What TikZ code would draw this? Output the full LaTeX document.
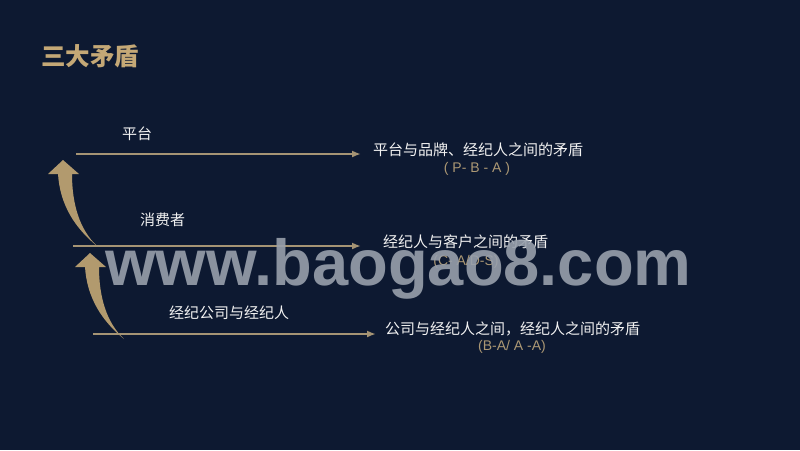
\documentclass[tikz,border=0pt]{standalone}
\usepackage{fontspec}
\setmainfont{Liberation Sans}
\newfontfamily\cjk{Noto Sans CJK SC}
\usetikzlibrary{arrows.meta}
\definecolor{bgnavy}{RGB}{13,25,49}
\definecolor{tan}{RGB}{178,154,110}
\definecolor{titletan}{RGB}{196,168,118}
\definecolor{linetan}{RGB}{165,148,116}
\definecolor{subtan}{RGB}{172,152,116}
\definecolor{txtwhite}{RGB}{242,242,242}
\definecolor{wmgray}{RGB}{152,160,172}
\tikzset{
  label/.style={inner sep=0pt, anchor=west, text=txtwhite, font=\cjk\fontsize{15}{18}\selectfont},
  sublabel/.style={inner sep=0pt, text=subtan, font=\fontsize{14}{16}\selectfont},
  flowline/.style={draw=linetan, line width=2pt, -{Latex[length=9pt,width=7pt]}},
  bigarrow/.style={fill=tan, draw=none},
}
\begin{document}
\begin{tikzpicture}[x=1pt,y=-1pt]
\fill[bgnavy] (0,0) rectangle (800,450);
\useasboundingbox (0,0) rectangle (800,450);

% title
\node[inner sep=0pt, anchor=west, text=titletan, font=\cjk\fontsize{24.5}{28}\selectfont\bfseries] (title) at (41,56) {三大矛盾};

% curved arrows
\path[bigarrow] (63,160) -- (79,174) -- (72,174)
  .. controls (72,205) and (80,230) .. (97,246)
  .. controls (75,228) and (60,205) .. (58,174)
  -- (48,174) -- cycle;
\begin{scope}[shift={(27,93)}]
\path[bigarrow] (63,160) -- (79,174) -- (72,174)
  .. controls (72,205) and (80,230) .. (97,246)
  .. controls (75,228) and (60,205) .. (58,174)
  -- (48,174) -- cycle;
\end{scope}

% row labels
\node[label] (l1) at (122,133.5) {平台};
\node[label] (l2) at (140,219.5) {消费者};
\node[label] (l3) at (169,313) {经纪公司与经纪人};

% right texts
\node[label] (t1) at (373,150) {平台与品牌、经纪人之间的矛盾};
\node[label] (t2) at (383,241.5) {经纪人与客户之间的矛盾};
\node[label] (t3) at (385,329) {公司与经纪人之间，经纪人之间的矛盾};

\node[sublabel] (s1) at (477,169) {( P- B - A )};
\node[sublabel] (s2) at (466,262) {(C- A/D-S)};
\node[sublabel] (s3) at (512,347) {(B-A/ A -A)};

% lines
\coordinate (a1) at (76,154);
\coordinate (b1) at (361,154);
\coordinate (a2) at (73,246);
\coordinate (b2) at (361,246);
\coordinate (a3) at (93,334);
\coordinate (b3) at (376,334);
\draw[flowline] (a1) -- (b1);
\draw[flowline] (a2) -- (b2);
\draw[flowline] (a3) -- (b3);

% watermark
\node[inner sep=0pt, anchor=base west, text=wmgray, opacity=0.9, font=\fontsize{65}{70}\selectfont\bfseries] (wm) at (105,285) {www.baogao8.com};
\end{tikzpicture}
\end{document}
